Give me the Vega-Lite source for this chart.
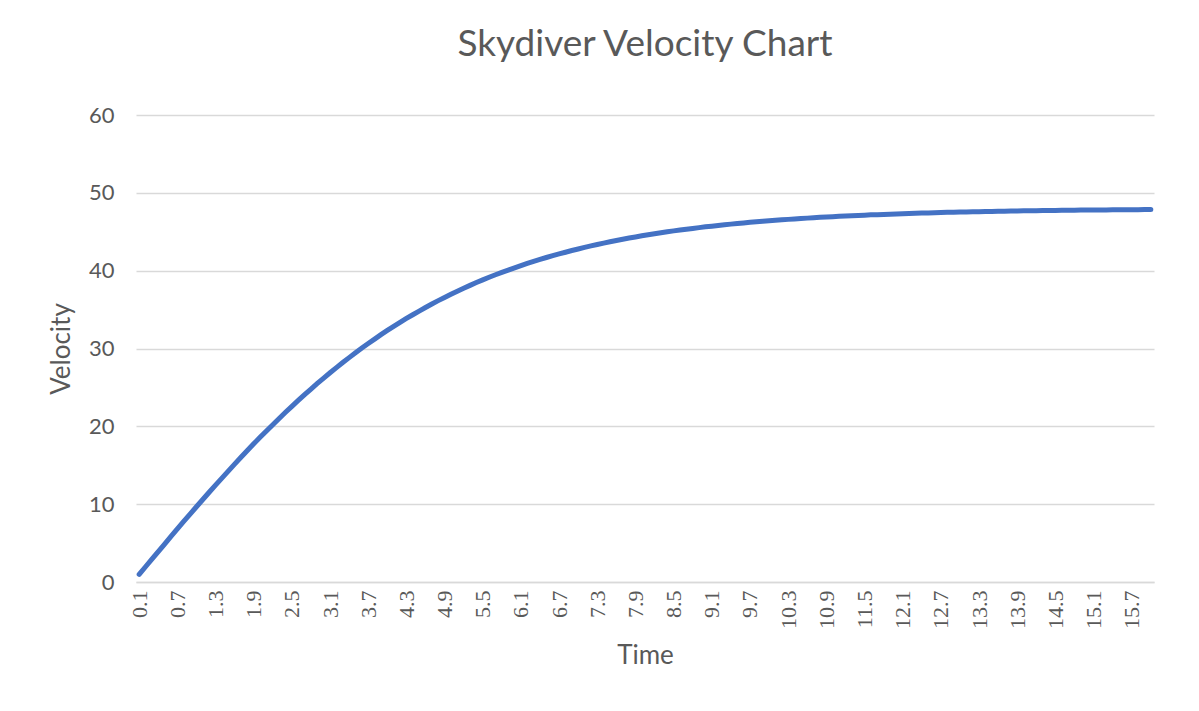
{
"$schema":"https://vega.github.io/schema/vega-lite/v6.json",
"width":1199,"height":711,
"autosize":{"type":"fit","contains":"padding"},
"padding":{"left":48,"right":38,"top":26,"bottom":42},
"background":"white",
"config":{"view":{"stroke":null},"font":"Lato"},
"title":{"text":"Skydiver Velocity Chart","fontSize":37,"font":"Lato","fontWeight":"normal","color":"#595959","offset":40},
"data":{"values":[
{"t":0.1,"v":0.98},{"t":0.2,"v":1.96},{"t":0.3,"v":2.93},{"t":0.4,"v":3.91},{"t":0.5,"v":4.88},{"t":0.6,"v":5.85},{"t":0.7,"v":6.82},{"t":0.8,"v":7.78},{"t":0.9,"v":8.73},{"t":1.0,"v":9.67},
{"t":1.1,"v":10.6},{"t":1.2,"v":11.53},{"t":1.3,"v":12.45},{"t":1.4,"v":13.34},{"t":1.5,"v":14.25},{"t":1.6,"v":15.14},{"t":1.7,"v":16.02},{"t":1.8,"v":16.89},{"t":1.9,"v":17.75},{"t":2.0,"v":18.59},
{"t":2.1,"v":19.41},{"t":2.2,"v":20.21},{"t":2.3,"v":21.01},{"t":2.4,"v":21.8},{"t":2.5,"v":22.57},{"t":2.6,"v":23.33},{"t":2.7,"v":24.06},{"t":2.8,"v":24.79},{"t":2.9,"v":25.51},{"t":3.0,"v":26.2},
{"t":3.1,"v":26.88},{"t":3.2,"v":27.55},{"t":3.3,"v":28.2},{"t":3.4,"v":28.83},{"t":3.5,"v":29.45},{"t":3.6,"v":30.06},{"t":3.7,"v":30.64},{"t":3.8,"v":31.21},{"t":3.9,"v":31.78},{"t":4.0,"v":32.32},
{"t":4.1,"v":32.84},{"t":4.2,"v":33.36},{"t":4.3,"v":33.86},{"t":4.4,"v":34.34},{"t":4.5,"v":34.81},{"t":4.6,"v":35.27},{"t":4.7,"v":35.72},{"t":4.8,"v":36.15},{"t":4.9,"v":36.56},{"t":5.0,"v":36.97},
{"t":5.1,"v":37.36},{"t":5.2,"v":37.74},{"t":5.3,"v":38.11},{"t":5.4,"v":38.47},{"t":5.5,"v":38.81},{"t":5.6,"v":39.15},{"t":5.7,"v":39.47},{"t":5.8,"v":39.78},{"t":5.9,"v":40.08},{"t":6.0,"v":40.37},
{"t":6.1,"v":40.66},{"t":6.2,"v":40.93},{"t":6.3,"v":41.19},{"t":6.4,"v":41.44},{"t":6.5,"v":41.69},{"t":6.6,"v":41.93},{"t":6.7,"v":42.15},{"t":6.8,"v":42.37},{"t":6.9,"v":42.59},{"t":7.0,"v":42.79},
{"t":7.1,"v":42.99},{"t":7.2,"v":43.18},{"t":7.3,"v":43.36},{"t":7.4,"v":43.54},{"t":7.5,"v":43.71},{"t":7.6,"v":43.87},{"t":7.7,"v":44.03},{"t":7.8,"v":44.19},{"t":7.9,"v":44.33},{"t":8.0,"v":44.48},
{"t":8.1,"v":44.61},{"t":8.2,"v":44.74},{"t":8.3,"v":44.87},{"t":8.4,"v":44.99},{"t":8.5,"v":45.11},{"t":8.6,"v":45.22},{"t":8.7,"v":45.33},{"t":8.8,"v":45.43},{"t":8.9,"v":45.53},{"t":9.0,"v":45.63},
{"t":9.1,"v":45.72},{"t":9.2,"v":45.81},{"t":9.3,"v":45.89},{"t":9.4,"v":45.98},{"t":9.5,"v":46.06},{"t":9.6,"v":46.13},{"t":9.7,"v":46.21},{"t":9.8,"v":46.28},{"t":9.9,"v":46.35},{"t":10.0,"v":46.41},
{"t":10.1,"v":46.47},{"t":10.2,"v":46.53},{"t":10.3,"v":46.59},{"t":10.4,"v":46.65},{"t":10.5,"v":46.7},{"t":10.6,"v":46.75},{"t":10.7,"v":46.8},{"t":10.8,"v":46.85},{"t":10.9,"v":46.89},{"t":11.0,"v":46.94},
{"t":11.1,"v":46.98},{"t":11.2,"v":47.02},{"t":11.3,"v":47.06},{"t":11.4,"v":47.09},{"t":11.5,"v":47.13},{"t":11.6,"v":47.17},{"t":11.7,"v":47.2},{"t":11.8,"v":47.23},{"t":11.9,"v":47.26},{"t":12.0,"v":47.29},
{"t":12.1,"v":47.32},{"t":12.2,"v":47.35},{"t":12.3,"v":47.37},{"t":12.4,"v":47.4},{"t":12.5,"v":47.42},{"t":12.6,"v":47.44},{"t":12.7,"v":47.47},{"t":12.8,"v":47.49},{"t":12.9,"v":47.51},{"t":13.0,"v":47.53},
{"t":13.1,"v":47.55},{"t":13.2,"v":47.56},{"t":13.3,"v":47.58},{"t":13.4,"v":47.6},{"t":13.5,"v":47.61},{"t":13.6,"v":47.63},{"t":13.7,"v":47.64},{"t":13.8,"v":47.66},{"t":13.9,"v":47.67},{"t":14.0,"v":47.69},
{"t":14.1,"v":47.7},{"t":14.2,"v":47.71},{"t":14.3,"v":47.72},{"t":14.4,"v":47.73},{"t":14.5,"v":47.74},{"t":14.6,"v":47.75},{"t":14.7,"v":47.76},{"t":14.8,"v":47.77},{"t":14.9,"v":47.78},{"t":15.0,"v":47.79},
{"t":15.1,"v":47.79},{"t":15.2,"v":47.8},{"t":15.3,"v":47.81},{"t":15.4,"v":47.82},{"t":15.5,"v":47.82},{"t":15.6,"v":47.83},{"t":15.7,"v":47.84},{"t":15.8,"v":47.84},{"t":15.9,"v":47.85},{"t":16.0,"v":47.85}
]},
"mark":{"type":"line","color":"#4472C4","strokeWidth":5,"strokeCap":"round"},
"encoding":{
"x":{"field":"t","type":"ordinal","sort":null,"scale":{"type":"point","padding":0.5},
"axis":{"title":"Time","titleFontSize":26,"titleColor":"#595959","titleFontWeight":"normal","titlePadding":14,
"values":[0.1,0.7,1.3,1.9,2.5,3.1,3.7,4.3,4.9,5.5,6.1,6.7,7.3,7.9,8.5,9.1,9.7,10.3,10.9,11.5,12.1,12.7,13.3,13.9,14.5,15.1,15.7],
"labelAngle":-90,"labelFontSize":22,"labelColor":"#595959","labelFont":"Liberation Serif","labelPadding":8,"ticks":false,"domainColor":"#d9d9d9","domainWidth":1.5,"grid":false}},
"y":{"field":"v","type":"quantitative","scale":{"domain":[0,60]},
"axis":{"title":"Velocity","titleFontSize":26,"titleColor":"#595959","titleFontWeight":"normal","titlePadding":14,
"values":[0,10,20,30,40,50,60],"labelFontSize":22,"labelColor":"#595959","labelPadding":22,"ticks":false,"domain":false,"gridColor":"#d9d9d9","gridWidth":1.5}}
}
}
